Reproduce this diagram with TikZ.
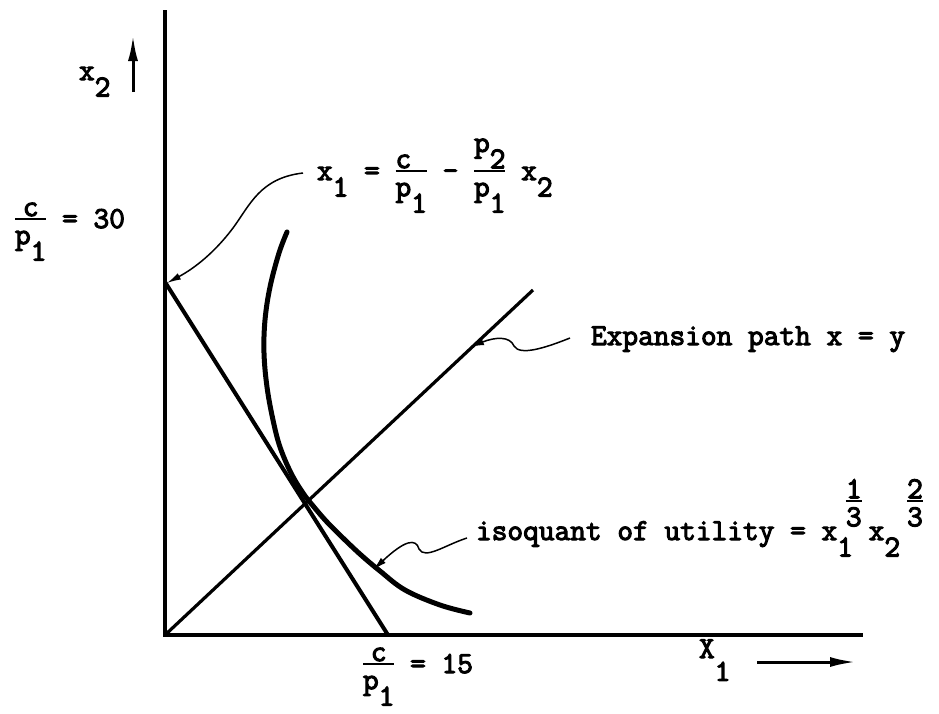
\documentclass[tikz,border=0pt]{standalone}
\usepackage{fontspec}
\setmonofont{Latin Modern Mono}[FakeBold=3.5]
\usetikzlibrary{arrows.meta}
\newcommand\dn[1]{\raisebox{-0.54em}{#1}}
\newlength\frw
\newcommand\tfr[2]{%
  \setbox0\hbox{#1}\setbox2\hbox{#2}%
  \frw=\wd0 \ifdim\wd2>\frw \frw=\wd2 \fi
  \rlap{\hbox to \frw{\hss\raisebox{0.39em}{\box0}\hss}}%
  \rlap{\rule[0.27em]{\frw}{0.07em}}%
  \hbox to \frw{\hss\raisebox{-0.53em}{\box2}\hss}}
\tikzset{
  lbl/.style={inner sep=0pt, outer sep=0pt, anchor=base west,
    font=\ttfamily\fontsize{30.5pt}{36pt}\selectfont},
  axisline/.style={line width=3.5pt},
  budget/.style={line width=4pt},
  expline/.style={line width=3.2pt},
  isoq/.style={line width=5pt, line cap=round},
  leader/.style={line width=1.5pt, -{Latex[length=14pt,width=7pt]}},
  axarrow/.style={line width=3pt, -{Latex[length=26pt,width=10pt]}}
}
\begin{document}
\begin{tikzpicture}[x=1pt,y=-1pt]
\useasboundingbox (0,0) rectangle (939,713);
% axes
\coordinate (O) at (165,635);
\coordinate (Ytop) at (165,10);
\coordinate (Xend) at (863,635);
\draw[axisline] (Ytop) -- (165,637);
\draw[axisline] (163,635) -- (Xend);
% budget line and expansion path
\coordinate (B1) at (165,282);
\coordinate (B2) at (388,635);
\draw[budget] (B1) -- (B2);
\coordinate (E2) at (533,290);
\draw[expline] (O) -- (E2);
% isoquant
\draw[isoq] plot[smooth, tension=0.6] coordinates {(287,232) (279,253) (270,287) (265,320) (264,353) (267,387) (273,420) (280,447) (291,473) (303,493) (314,507) (327,522) (344,539) (361,555) (380,571) (405,590) (440,605) (470,613)};
% axis labels
\node[lbl] (xtwo) at (79,80) {x\dn{2}};
\coordinate (x2a) at (133,92);
\coordinate (x2b) at (133,35);
\draw[axarrow] (x2a) -- (x2b);
\node[lbl] (xone) at (699,658) {X\raisebox{-0.75em}{1}};
\coordinate (x1a) at (757,662);
\coordinate (x1b) at (856,662);
\draw[axarrow] (x1a) -- (x1b);
% intercept labels
\node[lbl] (ylab) at (15,228) {\tfr{c}{p\dn{1}} = 30};
\node[lbl] (xlab) at (363,673) {\tfr{c}{p\dn{1}} = 15};
% equation of budget line
\node[lbl] (eq) at (317,180) {x\dn{1} = \tfr{c\ }{p\dn{1}} - \tfr{\raisebox{0.53em}{p\dn{2}}}{p\dn{1}} x\dn{2}};
\coordinate (eqL) at (303,173);
\coordinate (eqT) at (167,283);
\draw[leader] (eqL) .. controls (260,178) and (250,205) .. (233,228) .. controls (215,252) and (195,268) .. (eqT);
% expansion path label
\node[lbl] (exp) at (591,345) {Expansion path x = y};
\coordinate (expL) at (570,338);
\coordinate (expT) at (470,347);
\draw[leader] (expL) .. controls (545,348) and (520,356) .. (514,346) .. controls (510,336) and (495,337) .. (expT);
% isoquant label
\node[lbl] (iso) at (476,540) {isoquant of utility = x\dn{1}\kern-0.23em\raisebox{0.98em}{\tfr{1}{3}}\kern0.23em x\dn{2}\kern0.23em\raisebox{0.98em}{\tfr{2}{3}}};
\coordinate (isoL) at (467,538);
\coordinate (isoT) at (373,570);
\draw[leader] (isoL) .. controls (445,545) and (425,560) .. (419,549) .. controls (416,538) and (405,540) .. (isoT);
\end{tikzpicture}
\end{document}
